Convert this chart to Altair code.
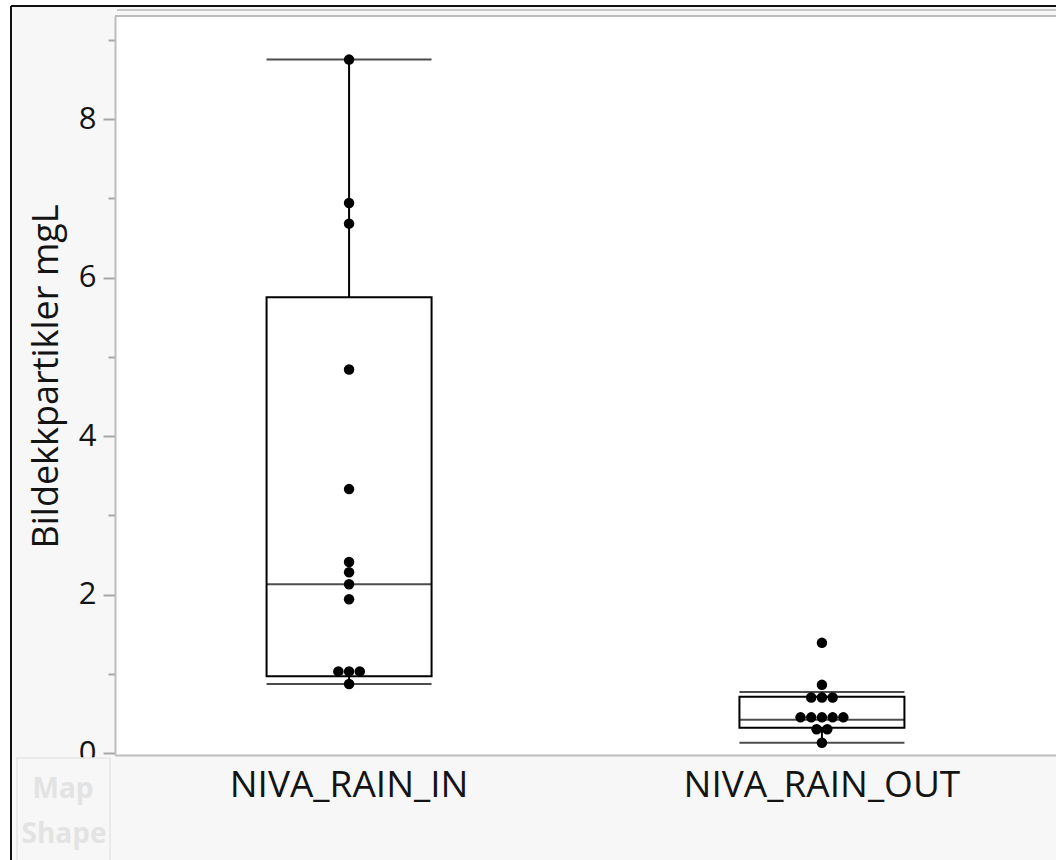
import altair as alt
import pandas as pd

# ---- data ----
categories = ["NIVA_RAIN_IN", "NIVA_RAIN_OUT"]
in_values = [8.75, 6.94, 6.68, 4.84, 3.33, 2.41, 2.28, 2.13, 1.94, 1.03, 1.03, 1.03, 0.87]
out_values = [1.39, 0.86, 0.70, 0.70, 0.70, 0.45, 0.45, 0.45, 0.45, 0.45, 0.30, 0.30, 0.13]
lower_whisker = [0.87, 0.13]
q1 = [0.97, 0.32]
median = [2.13, 0.42]
q3 = [5.75, 0.71]
upper_whisker = [8.75, 0.77]
y_tick_values = [0, 1, 2, 3, 4, 5, 6, 7, 8, 9]
y_title = "Bildekkpartikler mgL"

# ---- layout constants ----
PLOT_W, PLOT_H = 941, 739
PAD_L, PAD_T = 115, 16
PAD_INNER = 0.01
BOX_W = 165
DOT_GAP = 10.7
FONT = "Open Sans"

step = PLOT_W / (len(categories) - PAD_INNER)
bandwidth = step * (1 - PAD_INNER)
off_dom = bandwidth / 2 / DOT_GAP

# beeswarm slots for identical values
rows = []
for cat, vals in zip(categories, [in_values, out_values]):
    counts = {}
    for v in vals:
        counts[v] = counts.get(v, 0) + 1
    seen = {}
    for v in vals:
        i = seen.get(v, 0)
        seen[v] = i + 1
        rows.append({"cat": cat, "value": v, "slot": i - (counts[v] - 1) / 2})
points = pd.DataFrame(rows)

stats = pd.DataFrame({
    "cat": categories,
    "lw": lower_whisker,
    "q1": q1,
    "med": median,
    "q3": q3,
    "uw": upper_whisker,
})

x_scale = alt.Scale(domain=categories, paddingInner=PAD_INNER, paddingOuter=0)
y_scale = alt.Scale(domain=[-0.025, 9.3], nice=False, zero=False)

x_enc = alt.X("cat:N", scale=x_scale, sort=categories,
              axis=alt.Axis(title=None, ticks=False, labelAngle=0, labelFontSize=37,
                            labelFont=FONT, labelColor="#141414", labelPadding=12,
                            labelLimit=0,
                            domainColor="#bdbdbd", domainWidth=2))
y_axis = alt.Axis(
    title=y_title, values=y_tick_values,
    labelExpr="datum.value % 2 == 0 ? format(datum.value, 'd') : ''",
    tickSize=alt.condition("datum.value % 2 == 0", alt.value(12), alt.value(7)),
    tickColor="#a6a6a6", tickWidth=2,
    labelFontSize=31, labelFont=FONT, labelColor="#141414", labelPadding=7,
    domainColor="#bdbdbd", domainWidth=2, grid=False,
    titleFontSize=36, titleFont=FONT, titleFontWeight="normal", titleColor="#141414",
    titlePadding=13, titleY=360,
)

base = alt.Chart(stats)

whisk_hi = base.mark_rule(color="black", strokeWidth=2).encode(
    x=x_enc, y=alt.Y("q3:Q", scale=y_scale, axis=y_axis), y2="uw:Q")
whisk_lo = base.mark_rule(color="black", strokeWidth=2).encode(
    x=x_enc, y=alt.Y("lw:Q", scale=y_scale), y2="q1:Q")
box = base.mark_bar(size=BOX_W, fill="white", stroke="black", strokeWidth=2).encode(
    x=x_enc, y=alt.Y("q1:Q", scale=y_scale), y2="q3:Q")
med = base.mark_tick(size=BOX_W, thickness=2, color="black").encode(
    x=x_enc, y=alt.Y("med:Q", scale=y_scale))
cap_hi = base.mark_tick(size=BOX_W, thickness=2, color="black").encode(
    x=x_enc, y=alt.Y("uw:Q", scale=y_scale))
cap_lo = base.mark_tick(size=BOX_W, thickness=2, color="black").encode(
    x=x_enc, y=alt.Y("lw:Q", scale=y_scale))

dots = alt.Chart(points).mark_circle(size=110, color="black", opacity=1).encode(
    x=x_enc,
    xOffset=alt.XOffset("slot:Q", scale=alt.Scale(domain=[-off_dom, off_dom])),
    y=alt.Y("value:Q", scale=y_scale),
)

one = pd.DataFrame({"k": [0]})
deco = alt.Chart(one)
# plot-area top border (double gray line)
top1 = deco.mark_rule(color="#bdbdbd", strokeWidth=2).encode(
    x=alt.value(0), x2=alt.value(PLOT_W), y=alt.value(0))
top2 = deco.mark_rule(color="#c8c8c8", strokeWidth=2).encode(
    x=alt.value(2), x2=alt.value(PLOT_W), y=alt.value(-6))
# outer white margin and black frame
white_l = deco.mark_rect(color="white").encode(
    x=alt.value(-PAD_L), x2=alt.value(-104), y=alt.value(-PAD_T), y2=alt.value(860))
white_t = deco.mark_rect(color="white").encode(
    x=alt.value(-PAD_L), x2=alt.value(PLOT_W), y=alt.value(-PAD_T), y2=alt.value(-10))
frame_l = deco.mark_rule(color="#111", strokeWidth=2).encode(
    x=alt.value(-104), y=alt.value(-10), y2=alt.value(860))
frame_t = deco.mark_rule(color="#111", strokeWidth=2).encode(
    x=alt.value(-104), x2=alt.value(PLOT_W), y=alt.value(-10))
# faint "Map Shape" button
map_box = deco.mark_rect(fill="#f7f7f7", stroke="#e6e6e6", strokeWidth=1.5).encode(
    x=alt.value(-98), x2=alt.value(-5), y=alt.value(742), y2=alt.value(850))
map_t1 = deco.mark_text(text="Map", font=FONT, fontSize=28, fontWeight="bold",
                        color="#e3e3e3", align="center", baseline="alphabetic").encode(
    x=alt.value(-52), y=alt.value(782))
map_t2 = deco.mark_text(text="Shape", font=FONT, fontSize=28, fontWeight="bold",
                        color="#e3e3e3", align="center", baseline="alphabetic").encode(
    x=alt.value(-51), y=alt.value(827))

chart = alt.layer(
    whisk_hi, whisk_lo, box, med, cap_hi, cap_lo, dots,
    top1, top2, white_l, white_t, frame_l, frame_t, map_box, map_t1, map_t2,
).properties(
    width=PLOT_W, height=PLOT_H,
    autosize=alt.AutoSizeParams(type="none"),
    padding={"left": PAD_L, "top": PAD_T, "right": 0, "bottom": 860 - PAD_T - PLOT_H},
    background="#f7f7f7",
).configure_view(stroke=None, fill="white")

chart.save("out.html", embed_options={"renderer": "svg", "actions": False})
